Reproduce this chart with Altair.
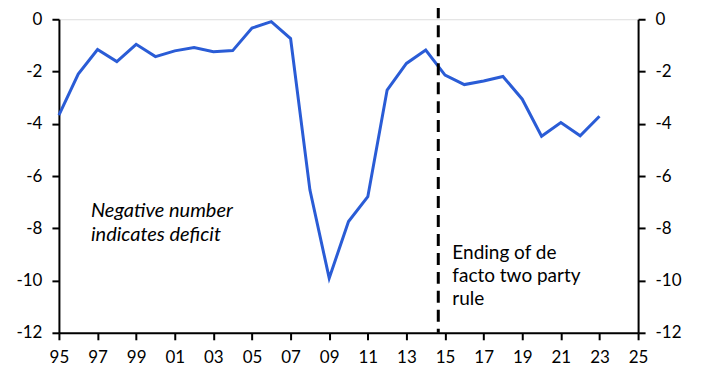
import altair as alt
import pandas as pd

years = list(range(1995, 2024))
values = [-3.67, -2.10, -1.16, -1.62, -0.96, -1.43, -1.21, -1.08, -1.24, -1.20,
          -0.34, -0.09, -0.74, -6.53, -9.91, -7.74, -6.79, -2.71, -1.69, -1.18,
          -2.14, -2.50, -2.36, -2.19, -3.06, -4.48, -3.95, -4.46, -3.71]

event_year = [2014.65]
note_x = [1996.66, 2015.38]
note_y = [-7.57, -9.17]
note_text = [["Negative number", "indicates deficit"], ["Ending of de", "facto two party", "rule"]]
note_style = ["italic", "normal"]

df = pd.DataFrame({"year": years, "value": values})
ev = pd.DataFrame({"year": event_year})
notes = pd.DataFrame({"x": note_x, "y": note_y, "t": note_text, "s": note_style})

FONT = "Lato"
xscale = alt.Scale(domain=[1995, 2025], nice=False, zero=False)
yscale = alt.Scale(domain=[-12, 0], nice=False)

xaxis = alt.Axis(values=list(range(1995, 2026, 2)), labelExpr="substring(toString(datum.value), 2)",
                 title=None, grid=False, domainColor="black", domainWidth=2, tickColor="black",
                 tickWidth=2, tickSize=7, labelFontSize=17, labelColor="black", labelFont=FONT,
                 labelPadding=10, labelOverlap=False, labelFlush=False)

def yaxis(orient):
    return alt.Axis(values=list(range(-12, 1, 2)), orient=orient, title=None, grid=False,
                    labelExpr="toString(datum.value)",
                    domainColor="black", domainWidth=2, tickColor="black", tickWidth=2,
                    tickSize=7, labelFontSize=17, labelColor="black", labelFont=FONT,
                    labelPadding=10, labelOverlap=False, labelFlush=False)

X = alt.X("year:Q", scale=xscale, axis=xaxis)

line = alt.Chart(df).mark_line(color="#2A5CD6", strokeWidth=3).encode(
    x=X,
    y=alt.Y("value:Q", scale=yscale, axis=yaxis("left")),
)

right = alt.Chart(df).mark_line(opacity=0).encode(
    x=X,
    y=alt.Y("value:Q", scale=yscale, axis=yaxis("right")),
)

rule = alt.Chart(ev).mark_rule(color="black", strokeWidth=3, strokeDash=[12, 7]).encode(
    x=X, y=alt.value(-13), y2=alt.value(314),
)

text_italic = alt.Chart(notes[notes.s == "italic"]).mark_text(
    align="left", baseline="alphabetic", fontSize=20, font=FONT, fontStyle="italic",
    color="black", lineHeight=24
).encode(x=alt.X("x:Q", scale=xscale, axis=xaxis), y=alt.Y("y:Q", scale=yscale, axis=None), text="t")

text_normal = alt.Chart(notes[notes.s == "normal"]).mark_text(
    align="left", baseline="alphabetic", fontSize=19, font=FONT,
    color="black", lineHeight=23
).encode(x=alt.X("x:Q", scale=xscale, axis=xaxis), y=alt.Y("y:Q", scale=yscale, axis=None), text="t")

chart = alt.layer(line, rule, text_italic, text_normal, right).resolve_axis(
    y="independent"
).properties(
    width=580, height=314,
    autosize=alt.AutoSizeParams(type="none"),
    padding={"left": 51, "top": 11, "right": 60, "bottom": 40},
).configure_view(stroke=None).configure(background="white")

chart.save("out.html", embed_options={"renderer": "svg", "actions": False})
